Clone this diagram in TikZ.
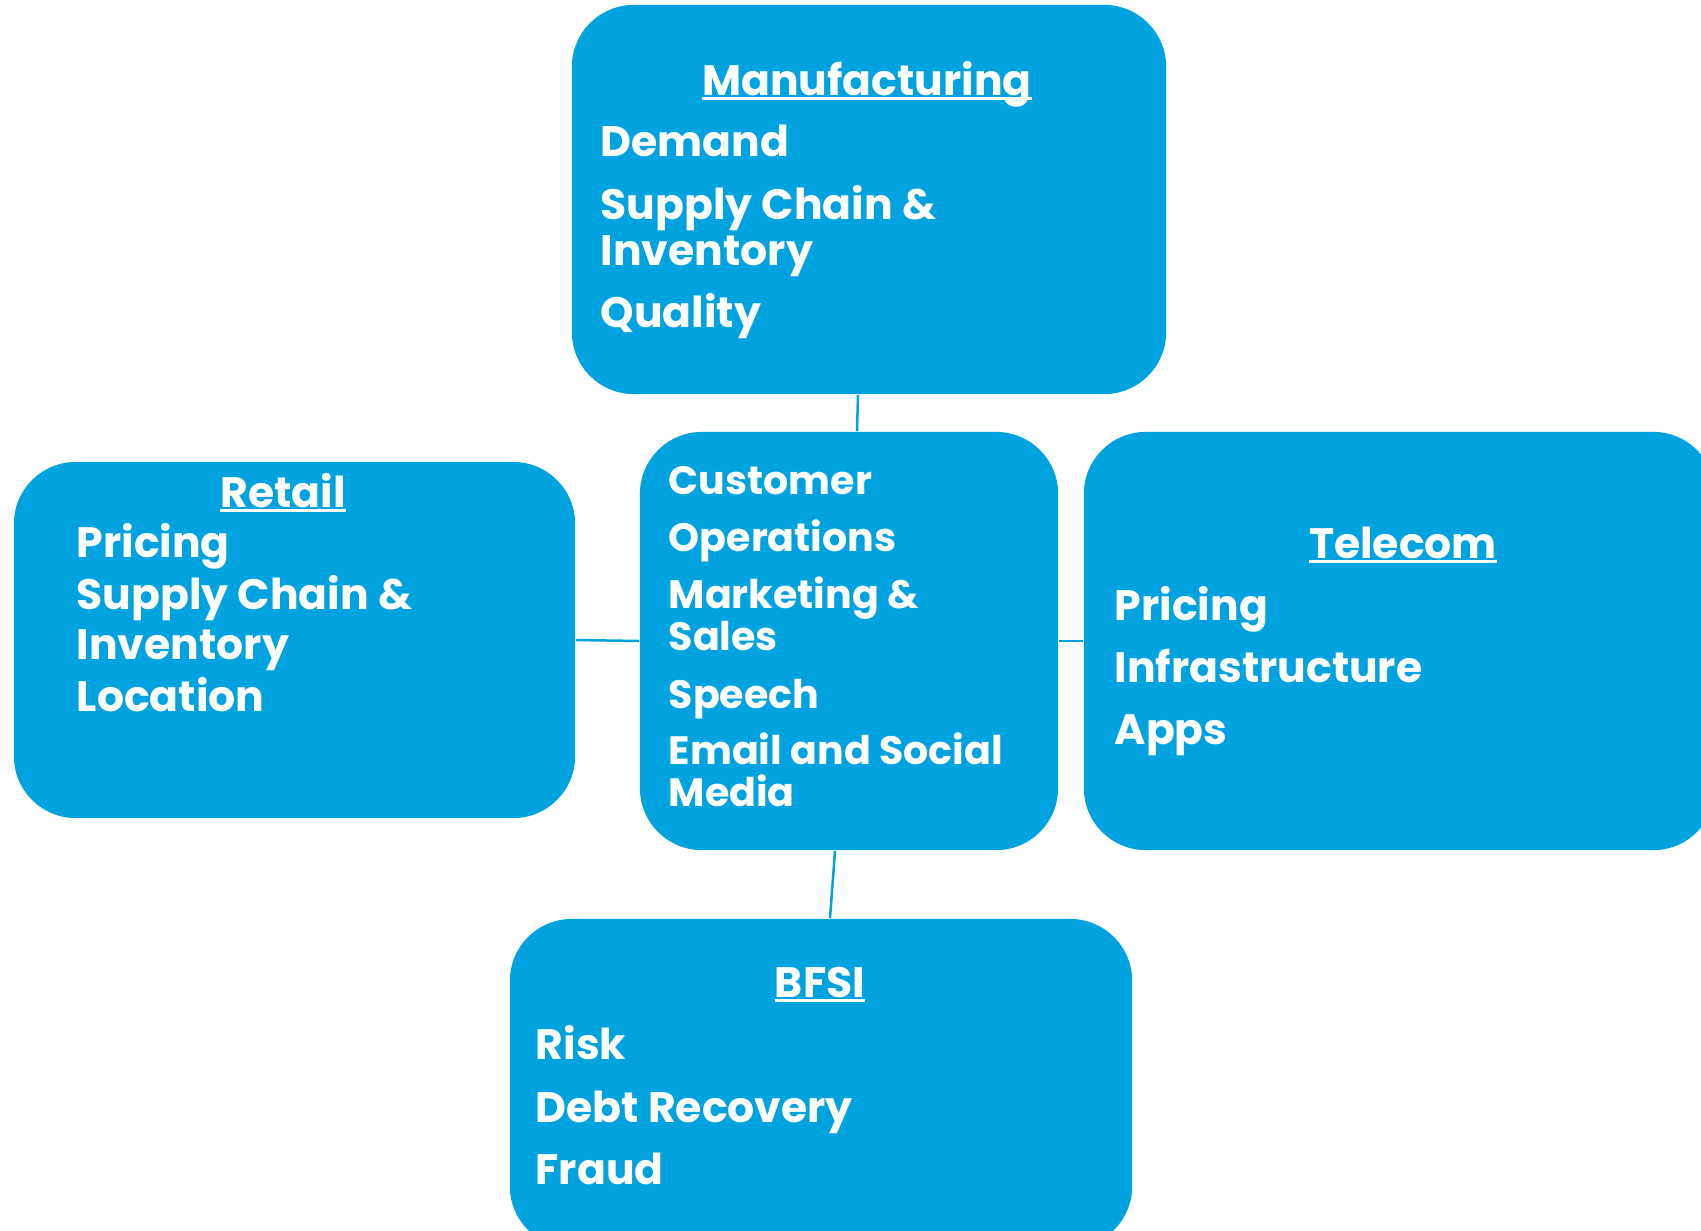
\documentclass[tikz,border=0pt]{standalone}
\usepackage{fontspec}
\setmainfont{Poppins}
\definecolor{sectorblue}{RGB}{0,163,224}
\newcommand\headul[1]{\setbox0\hbox{#1}\rlap{\rule[-0.045cm]{\wd0}{0.022cm}}\box0}

\begin{document}
\begin{tikzpicture}[x=0.01cm, y=-0.01cm,
	sector/.style={fill=sectorblue, rounded corners=0.62cm, inner sep=0pt},
	item/.style={anchor=base west, inner sep=0pt, text=white, font=\fontsize{12.1pt}{14pt}\selectfont\bfseries},
	hubitem/.style={item, font=\fontsize{11.25pt}{14pt}\selectfont\bfseries},
	head/.style={item, anchor=base},
	link/.style={draw=sectorblue, line width=0.025cm}]

\useasboundingbox (0,0) rectangle (1701,1230);
\clip (0,0) rectangle (1701,1230);

\node[sector, minimum width=5.94cm, minimum height=3.89cm] (manu) at (869,199.5) {};
\node[sector, minimum width=4.18cm, minimum height=4.18cm] (hub) at (849,641) {};
\node[sector, minimum width=5.61cm, minimum height=3.56cm] (retail) at (294.5,640) {};
\node[sector, minimum width=6.31cm, minimum height=4.18cm] (telecom) at (1399.5,641) {};
\node[sector, minimum width=6.22cm, minimum height=3.29cm] (bfsi) at (821,1083.5) {};

\draw[link] ([xshift=-0.11cm]manu.south) -- ([xshift=0.08cm]hub.north);
\draw[link] ([xshift=-0.14cm]hub.south) -- ([xshift=0.09cm]bfsi.north);
\draw[link] (retail.east) -- (hub.west);
\draw[link] (hub.east) -- (telecom.west);

\node[head] (manu-h) at (867,95) {\headul{Manufacturing}};
\foreach \y/\t [count=\i] in {156/Demand, 219/Supply Chain \&, 265/Inventory, 327/Quality}
\node[item] (manu-\i) at (600,\y) {\t};

\foreach \y/\t [count=\i] in {
	494/Customer,
	551/Operations,
	608/Marketing \&,
	650/Sales,
	708/Speech,
	764/Email and Social,
	806/Media}
\node[hubitem] (hub-\i) at (668,\y) {\t};

\node[head] (retail-h) at (283,507) {\headul{Retail}};
\foreach \y/\t [count=\i] in {557/Pricing, 609/Supply Chain \&, 659/Inventory, 711/Location}
\node[item] (retail-\i) at (76,\y) {\t};

\node[head] (telecom-h) at (1403,558) {\headul{Telecom}};
\foreach \y/\t [count=\i] in {620/Pricing, 682/Infrastructure, 744/Apps}
\node[item] (telecom-\i) at (1114,\y) {\t};

\node[head] (bfsi-h) at (820,997) {\headul{BFSI}};
\foreach \y/\t [count=\i] in {1059/Risk, 1122/Debt Recovery, 1184/Fraud}
\node[item] (bfsi-\i) at (535,\y) {\t};

\end{tikzpicture}
\end{document}
